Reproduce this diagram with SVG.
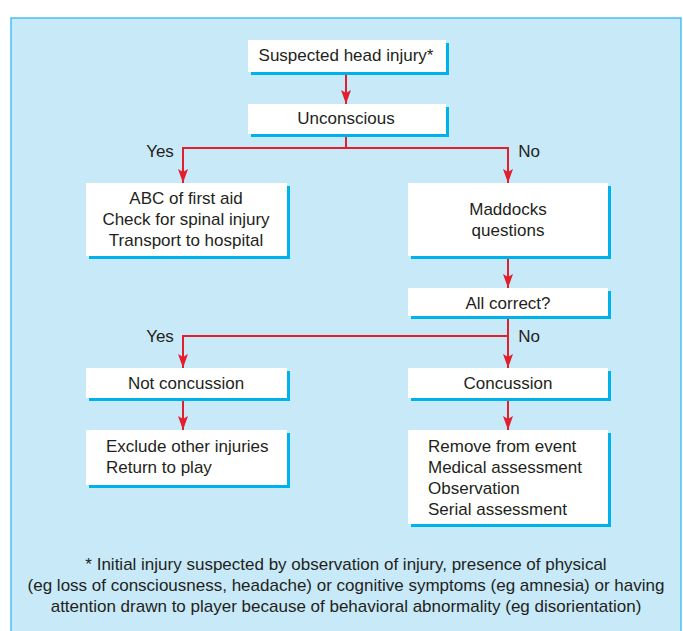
<svg xmlns="http://www.w3.org/2000/svg" width="683" height="631" viewBox="0 0 683 631">
<style>
.bg{fill:#c8e9f8;stroke:#1fb4ea;stroke-width:1.2}
.sh{fill:#00b2ea}
.bx{fill:#ffffff}
text{font-family:"Liberation Sans Narrow","Liberation Sans",Arial,sans-serif;font-size:17px;fill:#231f20}
.c{text-anchor:middle}
.ln{fill:none;stroke:#e31e2d;stroke-width:2}
</style>
<defs>
<marker id="ah" markerWidth="10" markerHeight="16" refX="5" refY="14" orient="0" markerUnits="userSpaceOnUse">
<path d="M0,0 L5,3 L10,0 L5,14 Z" fill="#e31e2d"/>
</marker>
</defs>
<rect class="bg" x="11" y="18" width="670" height="620"/>
<g id="connectors">
<path class="ln" d="M346,72 V104" marker-end="url(#ah)"/>
<path class="ln" d="M346,134 V148 H183 V183" marker-end="url(#ah)"/>
<path class="ln" d="M346,148 H508 V183" marker-end="url(#ah)"/>
<path class="ln" d="M508,256 V288" marker-end="url(#ah)"/>
<path class="ln" d="M508,316 V336 H183 V368" marker-end="url(#ah)"/>
<path class="ln" d="M508,336 V368" marker-end="url(#ah)"/>
<path class="ln" d="M183,398 V430" marker-end="url(#ah)"/>
<path class="ln" d="M508,398 V430" marker-end="url(#ah)"/>
</g>
<g id="lbl-yes1"><text class="c" x="160" y="157">Yes</text></g>
<g id="lbl-no1"><text class="c" x="529" y="157">No</text></g>
<g id="lbl-yes2"><text class="c" x="160" y="342">Yes</text></g>
<g id="lbl-no2"><text class="c" x="529" y="342">No</text></g>
<g id="n-suspected">
<rect class="sh" x="251" y="43" width="198" height="32"/>
<rect class="bx" x="248" y="40" width="198" height="32"/>
<text class="c" x="346" y="61">Suspected head injury*</text>
</g>
<g id="n-unconscious">
<rect class="sh" x="251" y="107" width="198" height="30"/>
<rect class="bx" x="248" y="104" width="198" height="30"/>
<text class="c" x="346" y="124">Unconscious</text>
</g>
<g id="n-abc">
<rect class="sh" x="89" y="186" width="201" height="73"/>
<rect class="bx" x="86" y="183" width="201" height="73"/>
<text class="c" x="186" y="204">ABC of first aid</text>
<text class="c" x="186" y="225">Check for spinal injury</text>
<text class="c" x="186" y="246">Transport to hospital</text>
</g>
<g id="n-maddocks">
<rect class="sh" x="411" y="186" width="200" height="73"/>
<rect class="bx" x="408" y="183" width="200" height="73"/>
<text class="c" x="508" y="215">Maddocks</text>
<text class="c" x="508" y="236">questions</text>
</g>
<g id="n-allcorrect">
<rect class="sh" x="411" y="291" width="200" height="28"/>
<rect class="bx" x="408" y="288" width="200" height="28"/>
<text class="c" x="508" y="309">All correct?</text>
</g>
<g id="n-notconcussion">
<rect class="sh" x="89" y="371" width="201" height="30"/>
<rect class="bx" x="86" y="368" width="201" height="30"/>
<text class="c" x="186" y="389">Not concussion</text>
</g>
<g id="n-concussion">
<rect class="sh" x="411" y="371" width="200" height="30"/>
<rect class="bx" x="408" y="368" width="200" height="30"/>
<text class="c" x="508" y="389">Concussion</text>
</g>
<g id="n-exclude">
<rect class="sh" x="89" y="433" width="201" height="55"/>
<rect class="bx" x="86" y="430" width="201" height="55"/>
<text x="106" y="452">Exclude other injuries</text>
<text x="106" y="473">Return to play</text>
</g>
<g id="n-remove">
<rect class="sh" x="411" y="433" width="200" height="94"/>
<rect class="bx" x="408" y="430" width="200" height="94"/>
<text x="428" y="452">Remove from event</text>
<text x="428" y="473">Medical assessment</text>
<text x="428" y="494">Observation</text>
<text x="428" y="515">Serial assessment</text>
</g>
<g id="footnote">
<text class="c" x="346" y="570">* Initial injury suspected by observation of injury, presence of physical</text>
<text class="c" x="346" y="591">(eg loss of consciousness, headache) or cognitive symptoms (eg amnesia) or having</text>
<text class="c" x="346" y="612">attention drawn to player because of behavioral abnormality (eg disorientation)</text>
</g>
</svg>
